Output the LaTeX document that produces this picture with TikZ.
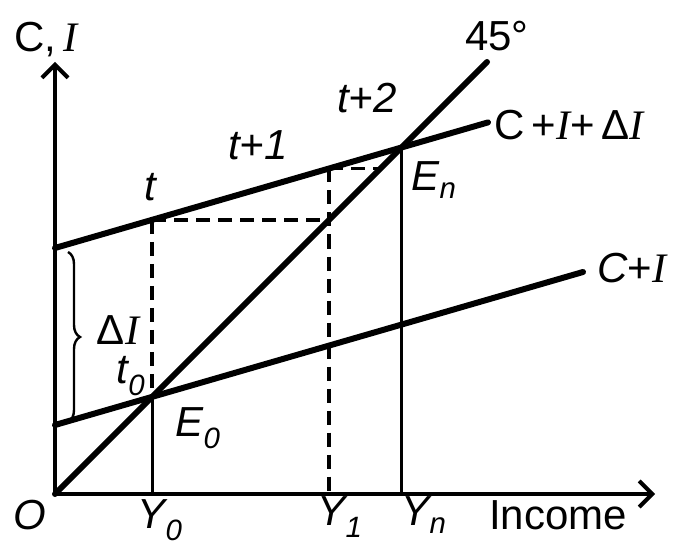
\documentclass[tikz,border=0pt]{standalone}
\usepackage{fontspec}
\setmainfont{Liberation Sans}
\newfontfamily\serifface{Liberation Serif}
\usepackage{tikz}
\usetikzlibrary{arrows.meta,positioning,calc,decorations.pathreplacing}
\newcommand{\Ivar}{{\serifface\itshape I}}
\tikzset{
  axis/.style={line width=4.5pt,-{Straight Barb[length=13pt,width=26pt,line width=4pt]}},
  curve/.style={line width=6pt,line cap=round},
  drop/.style={line width=3pt},
  guide/.style={line width=3.5pt,dash pattern=on 14pt off 8pt},
  lbl/.style={font=\fontsize{42}{46}\selectfont,inner sep=1pt},
  tlbl/.style={lbl,font=\fontsize{42}{46}\selectfont\itshape},
}
\begin{document}
\begin{tikzpicture}[x=1pt,y=-1pt]
\useasboundingbox (0,0) rectangle (698,545);
% points
\coordinate (O) at (55,494);
\coordinate (ytip) at (55,62);
\coordinate (xtip) at (655,494);
\coordinate (top45) at (487,62);
\coordinate (ci0) at (55,425);
\coordinate (ci1) at (583,272);
\coordinate (cid0) at (55,248);
\coordinate (cid1) at (488,122.4);
\coordinate (E0) at (152.2,396.8);
\coordinate (En) at (401.5,147.5);
\coordinate (tp) at (152.2,219.8);
\coordinate (h1) at (329.2,219.8);
\coordinate (t1) at (329.2,168.5);
\coordinate (h2) at (380.5,168.5);
\coordinate (Y0) at (152.2,494);
\coordinate (Y1) at (329.2,494);
\coordinate (Yn) at (401.5,494);
% axes and lines
\draw[axis] (O) -- (ytip);
\draw[axis] (O) -- (xtip);
\draw[curve] (O) -- (top45);
\draw[curve] (ci0) -- (ci1);
\draw[curve] (cid0) -- (cid1);
\draw[drop] (E0) -- (Y0);
\draw[drop] (En) -- (Yn);
\draw[guide] (tp) -- (E0);
\draw[guide] (tp) -- (h1);
\draw[guide] (t1) -- (Y1);
\draw[guide] (t1) -- (h2);
\draw[line width=2.4pt,decorate,decoration={brace,amplitude=12pt}]
  (68,252) -- (68,422);
% labels
\node[lbl] (ci) at (46,40) {C,\,\Ivar};
\node[lbl] (deg) at (497,36) {45°};
\node[tlbl] (tt2) at (367,98) {t+2};
\node[lbl,anchor=west] (cidl) at (493,125) {C\,+\Ivar+\,Δ\Ivar};
\node[tlbl] (tt1) at (258,145) {t+1};
\node[tlbl] (tt) at (150,187) {t};
\node[tlbl] (en) at (434,180) {E\textsubscript{n}};
\node[lbl,anchor=west] (cil) at (596,268) {\textit{C}+\Ivar};
\node[lbl] (dil) at (118,330) {Δ\Ivar};
\node[tlbl] (tt0) at (131,376) {t\textsubscript{0}};
\node[tlbl] (e0) at (198,428) {E\textsubscript{0}};
\node[tlbl] (ol) at (30,515) {O};
\node[tlbl] (y0l) at (160,520) {Y\textsubscript{0}};
\node[tlbl] (y1l) at (340,517) {Y\textsubscript{1}};
\node[tlbl] (ynl) at (424,515) {Y\textsubscript{n}};
\node[lbl] (inc) at (558,515) {Income};
\end{tikzpicture}
\end{document}
